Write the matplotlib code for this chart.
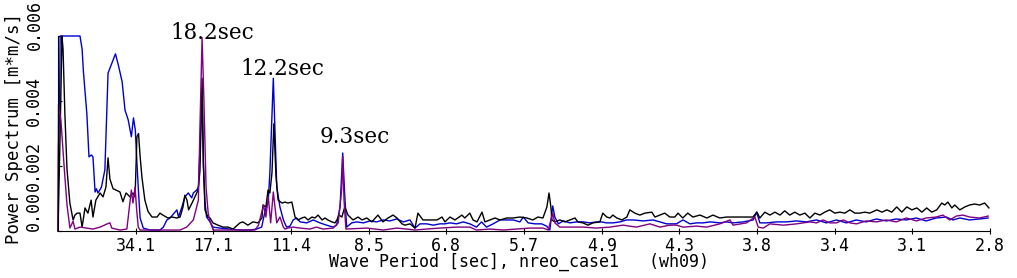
import numpy as np
import matplotlib
matplotlib.use("Agg")
import matplotlib.pyplot as plt

# frequency in mHz, power spectrum in 1e-3 m*m/s
black_f = [0.0, 0.8, 1.5, 1.9, 2.6, 3.4, 4.5, 5.7, 6.4, 7.2, 8.3, 9.1, 10.2, 11.3, 12.5, 13.2, 14.3, 15.9,
           17.0, 18.1, 18.9, 19.6, 20.8, 21.9, 23.4, 24.5, 25.7, 27.2, 28.3, 29.1, 29.8, 30.4, 31.0, 31.7,
           32.8, 34.0, 35.5, 37.4, 38.5, 39.6, 41.5, 43.0, 44.9, 46.1, 47.2, 47.9, 48.7, 49.3, 50.6, 51.7,
           52.9, 53.6, 54.4, 54.9, 55.5, 56.6, 57.4, 58.5, 60.4, 62.3, 64.2, 66.1, 68.7, 69.8, 71.7, 73.6,
           75.5, 77.0, 77.4, 78.5, 79.3, 80.0, 80.8, 81.5, 82.3, 83.1, 84.6, 85.7, 86.8, 88.3, 89.5, 90.6,
           92.1, 93.2, 94.4, 95.9, 97.0, 98.2, 99.7, 100.8, 101.9, 103.4, 104.6, 105.3, 106.1, 107.2, 107.6,
           108.3, 109.5, 111.4, 113.3, 114.8, 116.6, 118.5, 120.8, 122.7, 124.6, 126.5, 128.0, 129.9, 131.0,
           132.9, 134.8, 135.9, 137.8, 140.4, 143.1, 145.0, 146.1, 148.0, 149.9, 152.5, 153.6, 155.5, 156.7,
           158.2, 160.1, 161.2, 163.1, 165.0, 166.9, 169.5, 171.8, 174.4, 177.0, 179.3, 181.2, 183.1, 184.6,
           185.4, 186.1, 186.5, 187.6, 189.5, 191.4, 193.3, 195.2, 196.3, 198.2, 200.1, 202.0, 204.6, 205.7,
           207.2, 208.4, 209.5, 211.0, 212.9, 214.8, 215.9, 217.8, 219.7, 221.6, 224.2, 225.4, 227.3, 229.1,
           231.0, 232.9, 234.1, 235.9, 237.8, 239.7, 242.4, 245.0, 247.3, 249.9, 252.5, 256.3, 260.1, 262.4,
           263.9, 265.0, 266.9, 268.8, 270.7, 272.6, 274.4, 276.3, 278.2, 280.1, 282.0, 283.9, 285.8, 287.7,
           289.5, 291.4, 293.3, 295.2, 297.1, 299.0, 300.9, 302.8, 304.6, 306.5, 309.2, 311.1, 313.0, 314.8,
           316.7, 318.6, 320.5, 322.4, 324.3, 326.2, 328.0, 329.9, 331.8, 333.7, 334.8, 336.0, 337.5, 338.6,
           340.5, 342.4, 344.2, 346.1, 348.0, 349.9, 351.5]
black_p = [0.0, 3.0, 6.0, 5.6, 3.6, 1.9, 0.85, 0.34, 0.49, 0.55, 0.55, 0.12, 0.71, 0.55, 0.95, 0.43, 0.95, 1.17,
           1.05, 1.35, 2.25, 1.6, 1.3, 1.26, 1.2, 0.9, 1.17, 1.05, 1.17, 1.05, 2.9, 3.0, 2.3, 1.65,
           0.95, 0.6, 0.43, 0.43, 0.55, 0.49, 0.40, 0.43, 0.40, 0.43, 0.74, 1.1, 0.95, 0.65, 0.86, 1.05,
           1.26, 1.85, 4.7, 2.1, 0.65, 0.43, 0.40, 0.25, 0.18, 0.12, 0.12, 0.06, 0.25, 0.28, 0.18, 0.28,
           0.25, 0.40, 0.80, 0.74, 1.26, 1.17, 1.8, 3.3, 1.7, 0.95, 0.86, 0.89, 0.86, 0.89, 0.43, 0.34,
           0.40, 0.43, 0.34, 0.43, 0.40, 0.49, 0.34, 0.40, 0.34, 0.28, 0.25, 0.34, 0.49, 0.43, 0.55,
           0.74, 0.49, 0.34, 0.43, 0.34, 0.40, 0.28, 0.49, 0.28, 0.40, 0.49, 0.40, 0.22, 0.18,
           0.22, 0.09, 0.55, 0.34, 0.34, 0.34, 0.43, 0.28, 0.43, 0.34, 0.49, 0.40, 0.55, 0.34,
           0.28, 0.58, 0.28, 0.34, 0.40, 0.34, 0.40, 0.40, 0.43, 0.40, 0.34, 0.43, 0.40, 0.74,
           1.17, 0.74, 0.34, 0.28, 0.34, 0.28, 0.34, 0.40, 0.28, 0.25, 0.18, 0.25, 0.28, 0.55,
           0.43, 0.40, 0.49, 0.40, 0.34, 0.43, 0.65, 0.55, 0.49, 0.55, 0.58, 0.43, 0.49, 0.55,
           0.43, 0.43, 0.55, 0.40, 0.55, 0.43, 0.49, 0.40, 0.49, 0.40, 0.43, 0.43, 0.43, 0.43,
           0.58, 0.40, 0.58, 0.49, 0.58, 0.49, 0.62, 0.49, 0.58, 0.49, 0.55, 0.40, 0.55, 0.49,
           0.58, 0.65, 0.55, 0.58, 0.55, 0.65, 0.55, 0.55, 0.58, 0.55, 0.65, 0.58, 0.65, 0.58,
           0.74, 0.58, 0.74, 0.65, 0.71, 0.58, 0.71, 0.58, 0.65, 0.86, 0.80, 0.89, 0.71, 0.80,
           0.65, 0.74, 0.80, 0.83, 0.80, 0.86, 0.71]

blue_f = [0.0, 0.2, 0.6, 0.8, 8.3, 9.1, 9.6, 10.2, 10.9, 11.7, 12.6, 13.2, 14.0, 14.5, 15.1, 16.4, 17.7,
          18.9, 21.7, 22.8, 24.2, 25.3, 26.5, 27.7, 28.5, 29.2, 29.8, 30.4, 31.0, 32.2, 34.7, 38.5, 39.8,
          41.1, 42.3, 44.2, 44.9, 45.5, 46.8, 47.9, 49.2, 50.5, 51.1, 52.4, 53.0, 53.6, 54.4, 54.9, 55.5,
          56.1, 57.4, 58.5, 61.2, 64.9, 68.7, 72.5, 75.0, 76.9, 78.1, 79.4, 80.0, 81.3, 82.6, 83.8, 85.1,
          86.3, 87.6, 88.8, 90.1, 91.4, 93.9, 96.4, 98.9, 101.4, 103.9, 105.2, 106.5, 107.5, 108.3, 109.0,
          110.9, 112.8, 115.3, 117.8, 120.3, 122.8, 125.3, 127.9, 130.4, 132.9, 134.8, 136.7, 139.2, 141.7,
          144.2, 146.1, 148.0, 150.5, 153.0, 155.5, 158.0, 159.9, 161.8, 164.3, 166.9, 169.4, 171.9, 174.4,
          175.7, 177.5, 180.1, 182.6, 184.5, 185.7, 186.8, 187.6, 188.9, 190.8, 193.3, 195.8, 198.3, 200.8,
          203.3, 205.2, 207.1, 209.6, 212.2, 214.7, 217.2, 221.0, 224.7, 227.3, 229.8, 233.5, 236.0, 238.6,
          241.1, 243.6, 246.2, 249.9, 252.4, 254.9, 258.7, 262.5, 263.8, 265.0, 267.5, 271.3, 275.1, 278.8,
          282.6, 286.4, 290.1, 293.9, 297.7, 301.4, 305.2, 309.0, 312.8, 316.5, 320.3, 324.1, 327.8, 331.6,
          335.4, 337.9, 340.5, 344.2, 348.0, 351.2]
blue_p = [0.0, 2.6, 3.9, 6.0, 6.0, 5.6, 4.9, 4.3, 3.6, 2.28, 2.34, 2.28, 1.2, 1.3, 1.17, 1.35, 1.88,
          4.86, 5.45, 5.1, 4.6, 3.72, 3.42, 2.9, 3.48, 3.1, 2.1, 1.2, 0.4, 0.09, 0.03, 0.03, 0.12,
          0.34, 0.40, 0.58, 0.65, 0.43, 0.74, 1.05, 1.17, 1.02, 1.17, 1.26, 1.35, 2.5, 4.3, 2.0, 0.9,
          0.43, 0.28, 0.12, 0.09, 0.06, 0.03, 0.03, 0.06, 0.12, 0.58, 0.95, 1.8, 4.7, 1.35, 0.74, 0.34,
          0.12, 0.15, 0.34, 0.40, 0.28, 0.25, 0.34, 0.25, 0.18, 0.12, 0.18, 0.74, 2.4, 1.05, 0.12,
          0.25, 0.28, 0.25, 0.31, 0.28, 0.34, 0.31, 0.37, 0.28, 0.34, 0.09, 0.22, 0.22, 0.18,
          0.22, 0.22, 0.25, 0.22, 0.28, 0.22, 0.12, 0.28, 0.12, 0.22, 0.34, 0.34, 0.34, 0.28,
          0.43, 0.25, 0.22, 0.22, 0.15, 0.03, 0.77, 0.43, 0.22, 0.31, 0.25, 0.28, 0.28, 0.25,
          0.28, 0.28, 0.25, 0.25, 0.28, 0.34, 0.34, 0.31, 0.34, 0.28, 0.22, 0.22, 0.34, 0.22,
          0.25, 0.25, 0.28, 0.25, 0.28, 0.25, 0.28, 0.34, 0.58, 0.25, 0.25, 0.28, 0.28, 0.31,
          0.28, 0.34, 0.25, 0.34, 0.25, 0.34, 0.28, 0.37, 0.31, 0.37, 0.34, 0.40, 0.31, 0.40,
          0.43, 0.34, 0.40, 0.34, 0.37, 0.40]

purple_f = [0.0, 0.2, 1.1, 2.3, 3.4, 4.5, 5.7, 6.4, 8.3, 13.2, 15.9, 18.6, 19.6, 20.3, 23.4, 26.0, 27.7,
            28.3, 29.1, 29.7, 30.3, 31.0, 46.1, 48.6, 51.1, 53.0, 53.6, 54.4, 55.1, 55.9, 56.7, 57.6, 58.6,
            74.4, 75.7, 77.6, 78.5, 79.4, 80.3, 81.3, 82.6, 83.8, 85.1, 85.7, 86.8, 88.8, 91.4, 95.1, 97.6,
            100.1, 103.9, 105.8, 107.1, 107.5, 108.0, 108.7, 116.6, 122.8, 127.9, 131.6, 134.8, 139.2, 144.2,
            150.5, 155.5, 158.0, 163.1, 168.1, 173.1, 178.2, 183.2, 185.1, 186.8, 187.6, 189.5, 193.3, 198.3,
            203.3, 208.4, 213.3, 218.4, 223.5, 227.3, 231.0, 233.5, 236.0, 241.1, 244.9, 249.9, 253.7, 254.9,
            260.0, 263.1, 264.4, 266.3, 268.8, 273.9, 278.9, 283.9, 286.4, 288.9, 291.4, 293.9, 296.5, 299.0,
            301.5, 305.2, 309.0, 312.8, 316.5, 320.3, 324.1, 327.8, 331.6, 334.1, 336.7, 339.2, 341.7, 344.2,
            348.0, 351.2]
purple_p = [0.0, 3.9, 3.4, 2.0, 0.8, 0.09, 0.3, 0.06, 0.12, 0.06, 0.12, 0.22, 0.25, 0.09, 0.03, 0.06, 1.26,
            0.86, 1.35, 0.65, 0.12, 0.03, 0.03, 0.12, 0.34, 0.95, 3.2, 5.95, 4.0, 1.35, 0.55, 0.25, 0.03,
            0.03, 0.18, 0.80, 0.43, 1.05, 0.25, 1.2, 0.25, 0.43, 0.12, 0.06, 0.09, 0.12, 0.09, 0.06, 0.12,
            0.06, 0.09, 0.25, 1.26, 2.3, 0.95, 0.06, 0.09, 0.03, 0.09, 0.06, 0.03, 0.06, 0.09,
            0.12, 0.12, 0.03, 0.06, 0.03, 0.06, 0.09, 0.09, 0.03, 0.55, 0.25, 0.12, 0.12, 0.12,
            0.09, 0.12, 0.18, 0.12, 0.22, 0.12, 0.18, 0.18, 0.12, 0.15, 0.12, 0.22, 0.34, 0.18,
            0.25, 0.43, 0.12, 0.09, 0.22, 0.18, 0.22, 0.28, 0.25, 0.34, 0.25, 0.25, 0.34, 0.25,
            0.22, 0.31, 0.28, 0.34, 0.28, 0.40, 0.31, 0.40, 0.43, 0.49, 0.34, 0.46, 0.49, 0.43,
            0.40, 0.46]

tick_periods = ["34.1", "17.1", "11.4", "8.5", "6.8", "5.7", "4.9", "4.3", "3.8", "3.4", "3.1", "2.8"]
ytick_vals = [0, 0.002, 0.004, 0.006]
ytick_text = ["0.00", "0.002", "0.004", "0.006"]
peak_periods = [18.2, 12.2, 9.3]
peak_label_y = [0.0059, 0.0048, 0.0027]
peak_label_dx = [-33, -35, -23]  # pixels, left edge of text vs peak

df_tick = 1 / 34.1
ymax = 0.006

mono = "DejaVu Sans Mono"
fig = plt.figure(figsize=(10.17, 2.78), dpi=100)
ax = fig.add_axes([58 / 1017, 47 / 278, 932 / 1017, 195 / 278])

ax.plot(np.array(blue_f) / 1000, np.array(blue_p) / 1000, color="#0000d0", lw=1.0, clip_on=False)
ax.plot(np.array(black_f) / 1000, np.array(black_p) / 1000, color="black", lw=1.0, clip_on=False)
ax.plot(np.array(purple_f) / 1000, np.array(purple_p) / 1000, color="#800080", lw=1.0, clip_on=False)

ax.set_xlim(0, 12 * df_tick)
ax.set_ylim(0, ymax)

ax.spines["top"].set_visible(False)
ax.spines["right"].set_visible(False)

ax.set_xticks([(k + 1) * df_tick for k in range(len(tick_periods))])
ax.set_xticklabels(tick_periods, fontfamily=mono, fontsize=12)
ax.tick_params(axis="x", direction="inout", length=4, pad=2)

# top label is pushed down so that it stays inside the figure
ax.set_yticks(ytick_vals)
ylabs = ax.set_yticklabels(ytick_text[:-1] + [""], fontfamily=mono, fontsize=12,
                           rotation=90, va="center")
ylabs[0].set_va("bottom")
ax.tick_params(axis="y", direction="in", length=3, pad=11)
fig.text(35 / 1017, 1 - 25 / 278, ytick_text[-1], rotation=90, ha="center", va="center",
         fontfamily=mono, fontsize=12)

fig.text(14 / 1017, 1 - 128 / 278, "Power Spectrum [m*m/s]", rotation=90, ha="center", va="center",
         fontfamily=mono, fontsize=12.5)
fig.text(519 / 1017, 1 - 262 / 278, "Wave Period [sec], nreo_case1   (wh09)", ha="center", va="center",
         fontfamily=mono, fontsize=12)

for per, yv, dx in zip(peak_periods, peak_label_y, peak_label_dx):
    ax.annotate(f"{per}sec", xy=(1 / per, yv), xytext=(dx * 0.72, 0), textcoords="offset points",
                ha="left", va="baseline", fontfamily="DejaVu Serif", fontsize=15.5, annotation_clip=False)

fig.savefig("out.png", dpi=100)
